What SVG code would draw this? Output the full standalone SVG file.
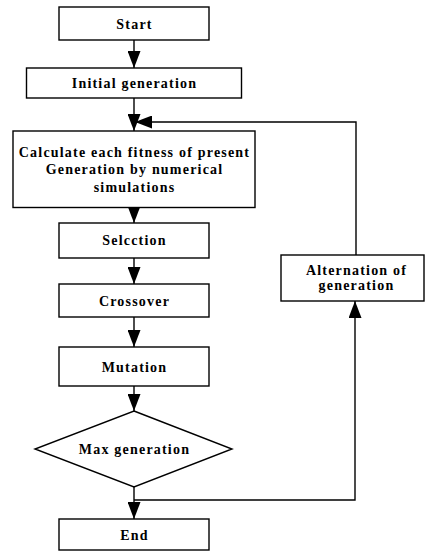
<svg xmlns="http://www.w3.org/2000/svg" width="425" height="551" viewBox="0 0 425 551">
<style>
.box{fill:#fff;stroke:#000;stroke-width:1.4}
.lbl{font-family:'Liberation Serif','DejaVu Serif',serif;font-weight:700;font-size:14px;letter-spacing:1.2px;text-anchor:middle;fill:#000}
.con{fill:none;stroke:#000;stroke-width:1.4}
</style>
<defs>
<marker id="ah" markerUnits="userSpaceOnUse" markerWidth="18" markerHeight="13" refX="17" refY="6.5" orient="auto">
<path d="M0,0 L17,6.5 L0,13 z" fill="#000"/>
</marker>
</defs>
<rect width="425" height="551" fill="#fff"/>
<g id="connectors">
<path class="con" d="M134,40 V68" marker-end="url(#ah)"/>
<path class="con" d="M134,98 V131" marker-end="url(#ah)"/>
<path class="con" d="M134,207 V223" marker-end="url(#ah)"/>
<path class="con" d="M134,258 V284" marker-end="url(#ah)"/>
<path class="con" d="M134,317 V347" marker-end="url(#ah)"/>
<path class="con" d="M134,386 V411" marker-end="url(#ah)"/>
<path class="con" d="M134,487 V519" marker-end="url(#ah)"/>
<path class="con" d="M134,500 H355 V301" marker-end="url(#ah)"/>
<path class="con" d="M356,255 V122 H135" marker-end="url(#ah)"/>
</g>
<g id="start">
<rect class="box" x="59" y="7" width="150" height="33"/>
<text class="lbl" x="134.5" y="28.5">Start</text>
</g>
<g id="initial">
<rect class="box" x="26.5" y="68" width="215" height="30"/>
<text class="lbl" x="134.5" y="88">Initial generation</text>
</g>
<g id="calculate">
<rect class="box" x="13" y="131" width="242" height="76.5"/>
<text class="lbl" x="134.5" y="157">Calculate each fitness of present</text>
<text class="lbl" x="134.5" y="174">Generation by numerical</text>
<text class="lbl" x="134.5" y="192">simulations</text>
</g>
<g id="selection">
<rect class="box" x="59" y="223" width="150" height="35"/>
<text class="lbl" x="134.5" y="245">Selcction</text>
</g>
<g id="crossover">
<rect class="box" x="59" y="284" width="150" height="33"/>
<text class="lbl" x="134.5" y="306">Crossover</text>
</g>
<g id="mutation">
<rect class="box" x="59" y="347" width="150" height="39"/>
<text class="lbl" x="134.5" y="371.5">Mutation</text>
</g>
<g id="maxgen">
<polygon class="box" points="134,411 232,449 134,487 35,449"/>
<text class="lbl" x="134.5" y="454">Max generation</text>
</g>
<g id="end">
<rect class="box" x="59" y="519" width="150" height="31"/>
<text class="lbl" x="134.5" y="540">End</text>
</g>
<g id="alternation">
<rect class="box" x="281" y="255" width="143" height="46"/>
<text class="lbl" x="356.5" y="275">Alternation of</text>
<text class="lbl" x="356.5" y="290">generation</text>
</g>
</svg>
